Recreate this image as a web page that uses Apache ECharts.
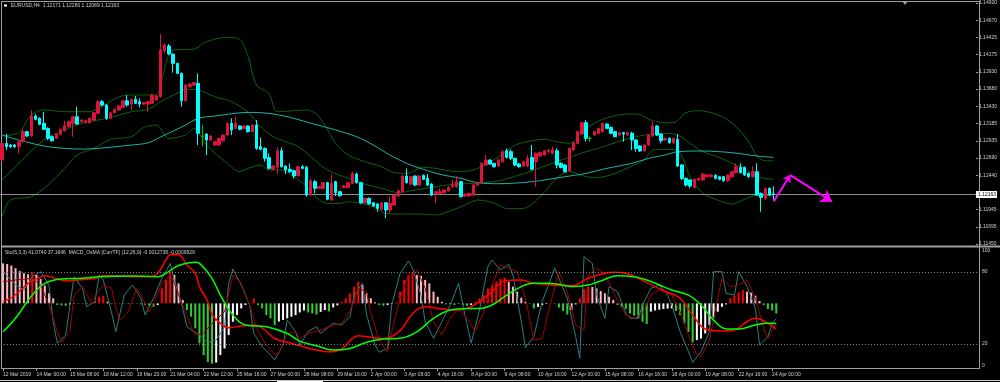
<!DOCTYPE html>
<html><head><meta charset="utf-8">
<script src="https://cdn.jsdelivr.net/npm/echarts@6.0.0/dist/echarts.min.js"></script>
<style>html,body{margin:0;padding:0;background:#000;overflow:hidden}#c{width:1000px;height:382px}</style>
</head><body><div id="c"></div>
<script>
const symbolName = 'EURUSD,H4';
const timeLabels = ['12 Mar 2019','14 Mar 00:00','15 Mar 08:00','18 Mar 12:00','19 Mar 20:00','21 Mar 04:00','22 Mar 12:00','25 Mar 16:00','27 Mar 00:00','28 Mar 08:00','29 Mar 16:00','2 Apr 00:00','3 Apr 08:00','4 Apr 16:00','8 Apr 00:00','9 Apr 08:00','10 Apr 16:00','12 Apr 00:00','15 Apr 08:00','16 Apr 16:00','18 Apr 00:00','19 Apr 08:00','22 Apr 16:00','24 Apr 00:00'];
const priceTicks = [1.11450,1.11695,1.11945,1.12440,1.12690,1.12935,1.13185,1.13430,1.13680,1.13930,1.14175,1.14425,1.14670,1.14920];
const oscTicks = [0,20,80,100];
const oscLevels = [80,20];
// [open, high, low, close]
const candles = [
[1.12659,1.12910,1.12640,1.12899],[1.12899,1.13033,1.12803,1.12851],[1.12875,1.12890,1.12830,1.12851],[1.12875,1.12890,1.12830,1.12851],
[1.12851,1.12930,1.12755,1.12923],[1.12923,1.13107,1.12910,1.13067],[1.13067,1.13080,1.12990,1.13005],[1.13005,1.13379,1.12995,1.13293],
[1.13293,1.13320,1.13230,1.13245],[1.13259,1.13275,1.13160,1.13173],[1.13187,1.13355,1.13090,1.13101],[1.13115,1.13130,1.12947,1.12971],
[1.12995,1.13010,1.12923,1.12937],[1.12971,1.13045,1.12960,1.13033],[1.13029,1.13110,1.13015,1.13101],[1.13081,1.13225,1.13070,1.13153],
[1.13139,1.13225,1.13125,1.13211],[1.13187,1.13295,1.12995,1.13283],[1.13283,1.13427,1.13165,1.13177],[1.13211,1.13250,1.13200,1.13235],
[1.13197,1.13240,1.13185,1.13225],[1.13197,1.13270,1.13185,1.13259],[1.13235,1.13350,1.13225,1.13341],[1.13331,1.13523,1.13320,1.13499],
[1.13499,1.13523,1.13427,1.13451],[1.13451,1.13465,1.13235,1.13259],[1.13259,1.13350,1.13245,1.13341],[1.13341,1.13400,1.13330,1.13389],
[1.13379,1.13450,1.13365,1.13437],[1.13417,1.13525,1.13405,1.13513],[1.13513,1.13595,1.13427,1.13451],[1.13465,1.13545,1.13379,1.13533],
[1.13533,1.13581,1.13465,1.13475],[1.13499,1.13547,1.13417,1.13465],[1.13465,1.13500,1.13455,1.13485],[1.13465,1.13510,1.13355,1.13499],
[1.13475,1.13610,1.13465,1.13595],[1.13523,1.13600,1.13510,1.13581],[1.13571,1.14473,1.13560,1.14243],[1.14233,1.14339,1.14195,1.14315],
[1.14301,1.14330,1.14175,1.14185],[1.14185,1.14195,1.13917,1.14051],[1.14051,1.14060,1.13895,1.13907],[1.13907,1.13920,1.13427,1.13513],
[1.13513,1.13750,1.13500,1.13739],[1.13715,1.13765,1.13700,1.13753],[1.13739,1.13785,1.13725,1.13773],[1.13763,1.13907,1.12875,1.13043],
[1.13000,1.13163,1.12855,1.13000],[1.13033,1.13045,1.12731,1.12947],[1.12947,1.13015,1.12935,1.13005],[1.12875,1.12935,1.12860,1.12923],
[1.12875,1.12980,1.12865,1.12971],[1.12937,1.13030,1.12925,1.13019],[1.13019,1.13200,1.13005,1.13187],[1.13187,1.13259,1.13019,1.13091],
[1.13115,1.13283,1.13100,1.13187],[1.13149,1.13160,1.13090,1.13101],[1.13111,1.13160,1.13100,1.13149],[1.13149,1.13160,1.13055,1.13067],
[1.13067,1.13175,1.13055,1.13163],[1.13163,1.13235,1.12803,1.12827],[1.12851,1.12985,1.12800,1.12813],[1.12827,1.12840,1.12635,1.12683],
[1.12693,1.12755,1.12525,1.12539],[1.12525,1.12585,1.12510,1.12573],[1.12553,1.12841,1.12457,1.12793],[1.12793,1.12841,1.12550,1.12563],
[1.12573,1.12585,1.12457,1.12515],[1.12525,1.12611,1.12475,1.12491],[1.12505,1.12520,1.12395,1.12429],[1.12433,1.12575,1.12420,1.12563],
[1.12563,1.12587,1.12525,1.12539],[1.12553,1.12573,1.12131,1.12155],[1.12155,1.12395,1.12140,1.12361],[1.12347,1.12371,1.12179,1.12251],
[1.12251,1.12290,1.12235,1.12275],[1.12251,1.12345,1.12240,1.12333],[1.12333,1.12345,1.12080,1.12093],[1.12083,1.12457,1.12070,1.12323],
[1.12347,1.12360,1.12141,1.12189],[1.12203,1.12215,1.12130,1.12145],[1.12265,1.12300,1.12250,1.12285],[1.12265,1.12345,1.12250,1.12333],
[1.12323,1.12491,1.12310,1.12467],[1.12457,1.12477,1.12320,1.12333],[1.12333,1.12345,1.12030,1.12043],[1.12043,1.12120,1.12030,1.12107],
[1.12107,1.12120,1.12015,1.12027],[1.12043,1.12055,1.11985,1.11997],[1.12027,1.12040,1.11915,1.11963],[1.11949,1.12055,1.11935,1.12043],
[1.12043,1.12055,1.11819,1.11939],[1.11939,1.12131,1.11891,1.12035],[1.12011,1.12165,1.12000,1.12155],[1.12141,1.12230,1.12130,1.12217],
[1.12203,1.12440,1.12190,1.12429],[1.12429,1.12539,1.12320,1.12333],[1.12313,1.12430,1.12300,1.12419],[1.12429,1.12440,1.12285,1.12299],
[1.12299,1.12440,1.12285,1.12429],[1.12439,1.12450,1.12370,1.12381],[1.12395,1.12457,1.12285,1.12299],[1.12313,1.12325,1.12140,1.12155],
[1.12179,1.12215,1.12043,1.12203],[1.12179,1.12251,1.12160,1.12203],[1.12189,1.12240,1.12175,1.12227],[1.12217,1.12285,1.12205,1.12265],
[1.12275,1.12371,1.12260,1.12313],[1.12275,1.12429,1.12260,1.12347],[1.12347,1.12360,1.12120,1.12131],[1.12141,1.12180,1.12130,1.12169],
[1.12141,1.12190,1.12130,1.12179],[1.12155,1.12310,1.12145,1.12299],[1.12299,1.12345,1.12290,1.12333],[1.12333,1.12625,1.12320,1.12611],
[1.12587,1.12731,1.12575,1.12659],[1.12659,1.12670,1.12590,1.12601],[1.12611,1.12620,1.12550,1.12563],[1.12573,1.12670,1.12560,1.12659],
[1.12635,1.12803,1.12620,1.12779],[1.12793,1.12827,1.12680,1.12697],[1.12779,1.12813,1.12659,1.12683],[1.12683,1.12695,1.12570,1.12587],
[1.12601,1.12615,1.12550,1.12563],[1.12573,1.12650,1.12560,1.12635],[1.12573,1.12731,1.12560,1.12683],[1.12697,1.12875,1.12510,1.12525],
[1.12635,1.12770,1.12275,1.12755],[1.12717,1.12780,1.12700,1.12765],[1.12731,1.12805,1.12720,1.12793],[1.12779,1.12815,1.12765,1.12803],
[1.12755,1.12851,1.12740,1.12803],[1.12793,1.12827,1.12539,1.12587],[1.12611,1.12625,1.12540,1.12553],[1.12587,1.12600,1.12475,1.12491],
[1.12505,1.12840,1.12490,1.12827],[1.12803,1.12920,1.12790,1.12909],[1.12899,1.13080,1.12885,1.13067],[1.13033,1.13211,1.13020,1.13197],
[1.13197,1.13235,1.12923,1.12971],[1.12971,1.12995,1.12923,1.12971],[1.13019,1.13080,1.13005,1.13067],[1.13043,1.13125,1.13030,1.13115],
[1.13067,1.13200,1.13055,1.13187],[1.13177,1.13190,1.13100,1.13115],[1.13129,1.13140,1.13030,1.13043],[1.13067,1.13080,1.12985,1.12995],
[1.13019,1.13065,1.13005,1.13053],[1.13053,1.13065,1.12923,1.13033],[1.13019,1.13065,1.13005,1.13053],[1.13043,1.13067,1.12803,1.12947],
[1.12947,1.12960,1.12779,1.12827],[1.12861,1.12875,1.12775,1.12789],[1.12789,1.12890,1.12775,1.12875],[1.12875,1.13030,1.12860,1.13019],
[1.13005,1.13211,1.12990,1.13149],[1.13149,1.13160,1.13005,1.13019],[1.13033,1.13045,1.12899,1.12937],[1.12947,1.12985,1.12935,1.12971],
[1.12971,1.12985,1.12895,1.12909],[1.12909,1.12985,1.12895,1.12971],[1.12955,1.13033,1.12560,1.12573],[1.12587,1.12600,1.12371,1.12395],
[1.12395,1.12410,1.12275,1.12299],[1.12371,1.12385,1.12251,1.12285],[1.12265,1.12395,1.12250,1.12381],[1.12371,1.12410,1.12355,1.12395],
[1.12371,1.12470,1.12355,1.12457],[1.12419,1.12460,1.12405,1.12443],[1.12419,1.12460,1.12405,1.12443],[1.12439,1.12455,1.12380,1.12395],
[1.12419,1.12430,1.12365,1.12381],[1.12419,1.12430,1.12345,1.12361],[1.12361,1.12455,1.12345,1.12443],[1.12419,1.12505,1.12405,1.12491],
[1.12477,1.12611,1.12465,1.12563],[1.12553,1.12611,1.12465,1.12477],[1.12553,1.12565,1.12430,1.12443],[1.12467,1.12480,1.12405,1.12419],
[1.12419,1.12573,1.12405,1.12491],[1.12491,1.12611,1.12140,1.12155],[1.12179,1.12190,1.11915,1.12121],[1.12107,1.12265,1.12083,1.12251],
[1.12251,1.12265,1.12140,1.12155],[1.12171,1.12280,1.12089,1.12163]
];
// Bollinger bands and moving average read at bar indices: [bar, price]
const bbUpper = [[0,1.13005],[4,1.13053],[7,1.13307],[10,1.13379],[15,1.13355],[21,1.13355],[23,1.13403],[30,1.13595],[37,1.13595],[38,1.13763],[41,1.14243],[46,1.14257],[49,1.14363],[54,1.14425],[57,1.14397],[59,1.14147],[61,1.13739],[64,1.13619],[66,1.13355],[73,1.13379],[76,1.13283],[80,1.12899],[83,1.12731],[87,1.12635],[91,1.12563],[94,1.12477],[97,1.12467],[101,1.12555],[104,1.12539],[109,1.12491],[113,1.12515],[116,1.12600],[119,1.12700],[123,1.12875],[127,1.12937],[130,1.12957],[133,1.12923],[136,1.12900],[140,1.13115],[144,1.13245],[149,1.13317],[152,1.13321],[156,1.13225],[159,1.13197],[161,1.13197],[164,1.13341],[167,1.13369],[170,1.13341],[173,1.13273],[176,1.13139],[179,1.12923],[181,1.12717],[183,1.12649],[185,1.12649]];
const bbMiddle = [[0,1.12371],[4,1.12611],[10,1.12947],[15,1.13091],[19,1.13187],[23,1.13235],[26,1.13273],[31,1.13355],[35,1.13389],[38,1.13499],[42,1.13619],[45,1.13677],[47,1.13667],[51,1.13571],[55,1.13499],[59,1.13345],[62,1.13139],[65,1.12995],[68,1.12923],[71,1.12851],[75,1.12659],[78,1.12515],[83,1.12395],[87,1.12313],[91,1.12251],[95,1.12189],[99,1.12227],[104,1.12275],[109,1.12313],[113,1.12323],[119,1.12360],[124,1.12443],[128,1.12525],[133,1.12635],[136,1.12697],[140,1.12779],[143,1.12827],[146,1.12889],[149,1.12947],[154,1.13019],[159,1.13043],[162,1.13019],[165,1.12899],[168,1.12779],[172,1.12697],[175,1.12611],[178,1.12539],[181,1.12419],[185,1.12381]];
const bbLower = [[0,1.11843],[2,1.12083],[7,1.12131],[11,1.12299],[15,1.12539],[18,1.12731],[22,1.12827],[26,1.12957],[31,1.12995],[34,1.13129],[37,1.13163],[40,1.12971],[44,1.13019],[46,1.13115],[49,1.12875],[54,1.12611],[57,1.12491],[59,1.12540],[62,1.12587],[64,1.12515],[67,1.12515],[70,1.12419],[73,1.12275],[75,1.12131],[78,1.12035],[81,1.12035],[83,1.12059],[86,1.12035],[89,1.11987],[92,1.11891],[96,1.11881],[100,1.11881],[104,1.11867],[108,1.11939],[111,1.12011],[114,1.12083],[117,1.12059],[119,1.12011],[121,1.11960],[125,1.11963],[129,1.12131],[133,1.12400],[136,1.12491],[140,1.12419],[143,1.12409],[147,1.12467],[151,1.12573],[154,1.12659],[156,1.12803],[159,1.12813],[162,1.12793],[165,1.12419],[168,1.12179],[172,1.12073],[175,1.12025],[178,1.12093],[181,1.12155],[185,1.12141]];
const maLine = [[0,1.13019],[4,1.12947],[11,1.12851],[19,1.12817],[23,1.12827],[31,1.12875],[35,1.12907],[39,1.13019],[44,1.13163],[47,1.13259],[51,1.13293],[59,1.13345],[64,1.13331],[69,1.13273],[75,1.13173],[80,1.13091],[85,1.12995],[89,1.12875],[93,1.12731],[97,1.12611],[101,1.12525],[105,1.12453],[110,1.12395],[114,1.12333],[119,1.12318],[127,1.12347],[135,1.12419],[140,1.12467],[145,1.12539],[151,1.12611],[155,1.12683],[159,1.12731],[162,1.12779],[168,1.12789],[175,1.12765],[181,1.12717],[185,1.12697]];
// drawn arrows: [bar, price]
const arrowUp = [[185,1.12062],[189,1.12443]];
const arrowDown = [[189,1.12443],[199,1.12059]];
// OsMA histogram, one value per bar
const osma = [0.00198,0.00195,0.00187,0.00174,0.00160,0.00149,0.00144,0.00154,0.00141,0.00121,0.00088,0.00050,0.00025,-0.00008,-0.00010,-0.00012,-0.00005,-0.00002,-0.00001,-0.00002,
-0.00003,0.00003,0.00012,0.00033,0.00038,0.00008,0.00002,0.00001,0.00002,-0.00002,-0.00003,-0.00001,-0.00002,-0.00005,-0.00008,-0.00012,-0.00017,-0.00008,0.00074,0.00116,
0.00157,0.00141,0.00099,0.00017,-0.00033,-0.00066,-0.00124,-0.00198,-0.00256,-0.00290,-0.00298,-0.00293,-0.00256,-0.00223,-0.00157,-0.00091,-0.00058,-0.00025,-0.00008,0.00002,
0.00025,-0.00008,-0.00025,-0.00058,-0.00074,-0.00107,-0.00090,-0.00082,-0.00074,-0.00066,-0.00058,-0.00045,-0.00035,-0.00045,-0.00050,-0.00055,-0.00042,-0.00033,-0.00040,-0.00020,
-0.00010,0.00008,0.00025,0.00050,0.00083,0.00107,0.00091,0.00050,0.00025,0.00005,-0.00008,-0.00012,-0.00008,-0.00003,0.00005,0.00058,0.00116,0.00140,0.00149,0.00140,
0.00136,0.00116,0.00099,0.00058,0.00033,0.00008,-0.00005,-0.00003,-0.00008,-0.00002,-0.00008,-0.00012,-0.00008,0.00008,0.00025,0.00041,0.00074,0.00091,0.00107,0.00121,
0.00127,0.00107,0.00083,0.00058,0.00028,0.00008,-0.00002,-0.00025,-0.00017,-0.00008,-0.00003,0.00002,-0.00002,-0.00021,-0.00038,-0.00055,-0.00033,-0.00005,0.00025,0.00071,
0.00083,0.00081,0.00074,0.00061,0.00050,0.00033,0.00017,-0.00008,-0.00017,-0.00028,-0.00050,-0.00061,-0.00074,-0.00091,-0.00102,-0.00041,-0.00035,-0.00031,-0.00028,-0.00026,
-0.00025,-0.00038,-0.00058,-0.00099,-0.00141,-0.00193,-0.00182,-0.00174,-0.00149,-0.00107,-0.00071,-0.00041,-0.00017,-0.00005,0.00025,0.00038,0.00055,0.00066,0.00058,0.00053,
0.00038,0.00012,-0.00008,-0.00028,-0.00035,-0.00050];
const macdMain = [[0,0.00008],[2,0.00028],[4,0.00061],[6,0.00099],[8,0.00121],[10,0.00137],[13,0.00121],[15,0.00111],[18,0.00116],[22,0.00124],[24,0.00137],[27,0.00137],[31,0.00132],[35,0.00132],[37,0.00149],[39,0.00215],[40,0.00240],[42,0.00240],[44,0.00190],[46,0.00149],[47,0.00083],[49,0.00008],[50,-0.00055],[52,-0.00099],[54,-0.00121],[57,-0.00112],[60,-0.00107],[62,-0.00121],[65,-0.00174],[68,-0.00193],[71,-0.00210],[75,-0.00231],[78,-0.00240],[81,-0.00226],[85,-0.00160],[87,-0.00165],[91,-0.00174],[95,-0.00135],[98,-0.00050],[101,-0.00017],[104,-0.00025],[108,-0.00033],[111,-0.00025],[114,0.00008],[117,0.00058],[120,0.00111],[124,0.00116],[127,0.00099],[130,0.00094],[133,0.00088],[136,0.00088],[140,0.00124],[143,0.00144],[146,0.00154],[149,0.00149],[152,0.00124],[156,0.00083],[159,0.00055],[162,0.00025],[165,-0.00058],[168,-0.00127],[172,-0.00137],[175,-0.00132],[178,-0.00091],[180,-0.00074],[183,-0.00099],[185,-0.0012738]];
const macdSignal = [[0,-0.00141],[3,-0.00074],[7,0.00041],[10,0.00099],[14,0.00121],[19,0.00124],[23,0.00132],[31,0.00136],[37,0.00132],[39,0.00149],[42,0.00187],[46,0.00203],[47,0.00198],[50,0.00124],[52,0.00041],[55,-0.00058],[58,-0.00107],[63,-0.00116],[68,-0.00149],[71,-0.00187],[75,-0.00210],[79,-0.00231],[83,-0.00223],[87,-0.00193],[91,-0.00177],[95,-0.00173],[99,-0.00141],[103,-0.00074],[107,-0.00033],[111,-0.00025],[114,-0.00025],[117,-0.00008],[120,0.00033],[124,0.00083],[127,0.00099],[130,0.00099],[133,0.00094],[136,0.00083],[140,0.00091],[143,0.00111],[147,0.00137],[151,0.00132],[154,0.00116],[157,0.00091],[160,0.00066],[164,0.00041],[167,-0.00008],[170,-0.00083],[173,-0.00127],[176,-0.00127],[180,-0.00107],[183,-0.00099],[185,-0.0009929]];
const stochMain = [[0,80.3],[3,69.2],[5,65.0],[7,76.1],[9,80.3],[11,69.2],[12,38.6],[13,20.6],[15,27.5],[17,76.1],[19,66.4],[20,51.1],[22,55.3],[23,77.5],[24,73.3],[26,45.6],[27,30.3],[29,60.8],[31,69.2],[33,58.1],[34,44.2],[36,58.1],[38,74.7],[40,87.2],[41,73.3],[43,49.7],[44,34.4],[47,27.5],[49,21.4],[51,23.3],[53,34.4],[54,70.6],[55,82.5],[57,69.2],[59,52.5],[60,28.9],[62,17.8],[64,10.8],[65,6.7],[67,19.2],[68,40.0],[70,30.3],[71,19.2],[73,30.3],[75,34.4],[76,28.9],[78,34.4],[79,37.2],[81,35.8],[83,42.8],[84,60.8],[86,70.6],[87,44.2],[89,19.2],[90,13.1],[92,16.4],[93,52.5],[95,78.9],[97,89.2],[98,83.1],[100,60.8],[101,38.6],[103,24.7],[104,31.7],[107,52.5],[109,70.6],[110,52.5],[112,20.6],[114,48.3],[116,84.4],[117,90.0],[119,81.7],[121,86.4],[122,77.5],[124,38.6],[125,17.0],[127,26.1],[129,55.3],[132,83.1],[135,58.1],[137,26.1],[138,8.1],[139,92.8],[141,87.2],[142,60.8],[144,41.4],[145,67.8],[147,63.6],[149,45.6],[150,41.4],[152,41.4],[153,52.5],[155,66.4],[157,69.2],[159,60.8],[160,52.5],[162,30.3],[164,13.6],[165,4.7],[167,13.6],[169,30.3],[170,80.3],[172,80.3],[173,62.2],[175,60.8],[176,80.3],[178,67.8],[180,49.7],[181,19.2],[183,26.1],[184,37.2],[185,41.0740]];
const stochSignal = [[0,71.9],[3,73.3],[7,74.7],[9,69.2],[11,52.5],[13,30.3],[14,21.4],[16,30.3],[17,60.8],[19,67.8],[21,55.3],[22,59.4],[24,69.2],[26,66.4],[27,49.7],[28,40.0],[30,46.9],[32,66.4],[33,60.8],[35,46.9],[36,53.9],[38,70.6],[40,77.5],[41,70.6],[43,52.5],[45,34.4],[46,27.5],[48,28.9],[50,37.2],[53,46.9],[55,77.5],[57,70.6],[59,52.5],[61,30.3],[63,19.2],[65,11.4],[66,12.2],[68,28.9],[70,30.3],[71,24.7],[73,28.9],[76,31.7],[78,34.4],[81,37.2],[83,46.9],[85,66.4],[87,63.6],[88,45.6],[90,23.3],[92,13.6],[93,30.3],[95,58.1],[97,77.5],[99,81.7],[101,66.4],[103,38.6],[105,27.5],[107,41.4],[109,49.7],[111,41.4],[113,30.3],[115,46.9],[117,69.2],[119,85.8],[121,83.1],[123,80.3],[125,58.1],[127,23.3],[129,24.7],[131,53.9],[133,80.3],[135,63.6],[137,35.8],[139,31.7],[140,77.5],[142,83.1],[144,78.9],[146,63.6],[148,49.7],[149,44.2],[151,41.4],[153,45.6],[155,60.8],[157,65.0],[160,60.8],[162,46.9],[164,27.5],[166,10.8],[167,9.4],[169,23.3],[171,58.1],[172,74.7],[174,67.8],[176,69.2],[178,73.3],[180,58.1],[182,33.1],[183,24.7],[185,37.1646]];

const SLOTS = 234;
const FONT = 'Liberation Sans';
const TXT = '#d0d0d0';
const FRAME = '#a0a0a0';

const last = candles[candles.length - 1];
const lastClose = last[3];
const cats = Array.from({length: SLOTS}, (_, i) => String(i));
const ohlcData = candles.map(c => [c[0], c[3], c[2], c[1]]);
const labelIdx = i => i % 8 === 0 && i / 8 < timeLabels.length;

const chart = echarts.init(document.getElementById('c'), null, {renderer: 'canvas'});
const lineS = (name, data, color, width, xi, yi, z, smooth) => ({
  name, type: 'line', data, xAxisIndex: xi, yAxisIndex: yi, showSymbol: false, symbol: 'none',
  smooth: smooth, lineStyle: {color, width}, z, silent: true, animation: false, clip: true
});

chart.setOption({
  backgroundColor: '#000000',
  animation: false,
  title: [
    {text: `${symbolName}  ${last[0].toFixed(5)} ${last[1].toFixed(5)} ${last[2].toFixed(5)} ${last[3].toFixed(5)}`,
     left: 11, top: 3, padding: 0, textStyle: {fontSize: 5, color: TXT, fontWeight: 'normal', fontFamily: FONT}},
    {text: `Sto(5,3,3) ${stochMain[stochMain.length-1][1].toFixed(4)} ${stochSignal[stochSignal.length-1][1].toFixed(4)}  MACD_OsMA [CurrTF] (12,26,9) ${macdMain[macdMain.length-1][1].toFixed(7)} ${macdSignal[macdSignal.length-1][1].toFixed(7)}`,
     left: 5, top: 250, padding: 0, textStyle: {fontSize: 5, color: TXT, fontWeight: 'normal', fontFamily: FONT}}
  ],
  grid: [
    {left: 0, right: 21, top: 3, height: 241, containLabel: false},
    {left: 0, right: 21, top: 248, height: 120, containLabel: false}
  ],
  xAxis: [
    {type: 'category', gridIndex: 0, data: cats, boundaryGap: true, axisLine: {show: false}, axisTick: {show: false}, axisLabel: {show: false}, splitLine: {show: false}},
    {type: 'category', gridIndex: 1, data: cats, boundaryGap: true, axisLine: {show: false},
     axisTick: {show: true, alignWithLabel: true, interval: labelIdx, length: 3, lineStyle: {color: FRAME}},
     axisLabel: {show: true, interval: labelIdx, formatter: (v, i) => timeLabels[Math.round(Number(v) / 8)] || '', align: 'left', margin: 4, fontSize: 5, color: TXT, fontFamily: FONT},
     splitLine: {show: false}}
  ],
  yAxis: [
    {type: 'value', gridIndex: 0, position: 'right', min: 1.1145, max: 1.1492, scale: true,
     axisLine: {show: false}, splitLine: {show: false},
     axisTick: {show: true, customValues: priceTicks, length: 2, lineStyle: {color: FRAME}},
     axisLabel: {show: true, customValues: priceTicks, formatter: v => v.toFixed(5), margin: 3, fontSize: 5, color: TXT, fontFamily: FONT}},
    {type: 'value', gridIndex: 1, position: 'right', min: 0, max: 100,
     axisLine: {show: false}, splitLine: {show: false},
     axisTick: {show: false},
     axisLabel: {show: true, customValues: oscTicks, margin: 3, fontSize: 5, color: TXT, fontFamily: FONT,
                 verticalAlignMaxLabel: 'top', verticalAlignMinLabel: 'bottom'}},
    {type: 'value', gridIndex: 1, position: 'right', min: -0.0032, max: 0.00274, show: false,
     axisLine: {show: false}, splitLine: {show: false}, axisLabel: {show: false}, axisTick: {show: false}}
  ],
  series: [
    lineS('BB upper', bbUpper, '#0b640b', 1, 0, 0, 2, 0.3),
    lineS('BB middle', bbMiddle, '#0b640b', 1, 0, 0, 2, 0.3),
    lineS('BB lower', bbLower, '#0b640b', 1, 0, 0, 2, 0.3),
    lineS('MA', maLine, '#20b2aa', 1, 0, 0, 3, 0.3),
    {name: 'EURUSD', type: 'candlestick', xAxisIndex: 0, yAxisIndex: 0, data: ohlcData, barWidth: 3, z: 5,
     itemStyle: {color: '#dc143c', color0: '#00ffff', borderColor: '#dc143c', borderColor0: '#00ffff', borderColorDoji: '#00c800', borderWidth: 1},
     markLine: {silent: true, symbol: 'none', animation: false, precision: 5,
       data: [{yAxis: lastClose}],
       lineStyle: {color: '#8c8c8c', width: 1, type: 'solid'},
       label: {show: true, position: 'end', formatter: lastClose.toFixed(5), backgroundColor: '#ffffff', color: '#000000', fontSize: 5, fontFamily: FONT, padding: [1, 1, 1, 2], distance: 0}}},
    {name: 'arrows', type: 'line', xAxisIndex: 0, yAxisIndex: 0, data: [], z: 6,
     markLine: {silent: true, animation: false, label: {show: false}, precision: 5,
       lineStyle: {color: '#ff00ff', width: 2, type: 'solid'},
       data: [
         [{coord: arrowUp[0], symbol: 'none'}, {coord: arrowUp[1], symbol: 'arrow', symbolSize: 7}],
         [{coord: arrowDown[0], symbol: 'none'}, {coord: arrowDown[1], symbol: 'arrow', symbolSize: 11}]
       ]}},
    {name: 'OsMA', type: 'bar', xAxisIndex: 1, yAxisIndex: 2, data: osma, barWidth: 2, z: 1, silent: true,
     itemStyle: {color: p => {
       const i = p.dataIndex, v = osma[i];
       const prev = i > 0 ? osma[i - 1] : v + 1e-9;
       if (v >= 0) return v >= prev ? '#ff0000' : '#ffb6c1';
       return v < prev ? '#32cd32' : '#ffffff';
     }}},
    Object.assign(lineS('Stoch main', stochMain, '#2e7d7d', 1, 1, 1, 3, false), {
      markLine: {silent: true, symbol: 'none', animation: false, precision: 2, label: {show: false},
        data: oscLevels.map(v => ({yAxis: v})), lineStyle: {color: '#8c8c8c', width: 1, type: [1, 2]}}}),
    lineS('Stoch signal', stochSignal, '#a00000', 1, 1, 1, 3, false),
    lineS('MACD', macdMain, '#ff0000', 1.5, 1, 2, 4, 0.4),
    lineS('Signal', macdSignal, '#00ff00', 1.5, 1, 2, 4, 0.4)
  ],
  graphic: [
    {type: 'rect', shape: {x: 4, y: 4.5, width: 3, height: 2}, style: {fill: '#ffffff'}},
    {type: 'line', shape: {x1: 1.5, y1: 1, x2: 1.5, y2: 369}, style: {stroke: FRAME, lineWidth: 1}},
    {type: 'line', shape: {x1: 979.5, y1: 1, x2: 979.5, y2: 369}, style: {stroke: FRAME, lineWidth: 1}},
    {type: 'line', shape: {x1: 1, y1: 1.5, x2: 980, y2: 1.5}, style: {stroke: FRAME, lineWidth: 1}},
    {type: 'line', shape: {x1: 1, y1: 246.5, x2: 1000, y2: 246.5}, style: {stroke: FRAME, lineWidth: 2}},
    {type: 'line', shape: {x1: 1, y1: 368.5, x2: 980, y2: 368.5}, style: {stroke: FRAME, lineWidth: 1}},
    {type: 'line', shape: {x1: 0, y1: 380.5, x2: 1000, y2: 380.5}, style: {stroke: '#c8c8c8', lineWidth: 1}},
    {type: 'rect', shape: {x: 277, y: 381, width: 46, height: 1}, style: {fill: '#ffffff'}},
    {type: 'polygon', shape: {points: [[902, 1], [908, 1], [905, 5]]}, style: {fill: '#a0a0a0'}}
  ]
});
</script>
</body></html>
